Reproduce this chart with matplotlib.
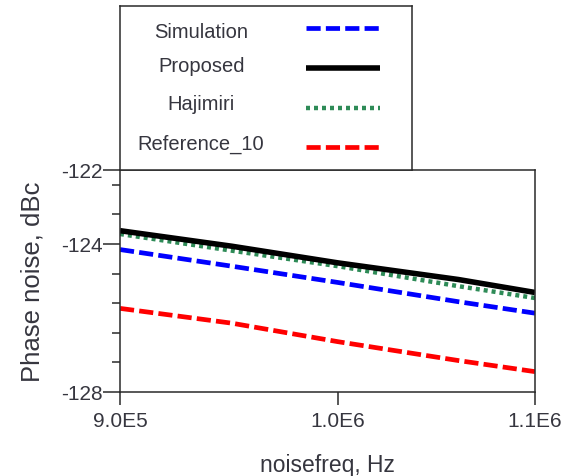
import matplotlib
matplotlib.use('Agg')
import matplotlib.pyplot as plt
from matplotlib.ticker import FixedLocator, NullLocator

plt.rcParams['font.family'] = ['Liberation Sans', 'DejaVu Sans']

# 값은 그림에서 읽은 추정치
freq = [9.0e5, 9.5e5, 1.0e6, 1.06e6, 1.1e6]
simulation = [-124.15, -124.60, -125.04, -125.56, -125.87]
proposed = [-123.64, -124.06, -124.51, -124.96, -125.31]
hajimiri = [-123.73, -124.18, -124.60, -125.14, -125.46]
reference_10 = [-125.74, -126.14, -126.64, -127.15, -127.45]

xtick_vals = [9.0e5, 1.0e6, 1.1e6]
xtick_labels = ['9.0E5', '1.0E6', '1.1E6']
ytick_vals = [-128, -124, -122]
ytick_labels = ['-128', '-124', '-122']

txt_color = '#36363f'
frame_color = '#2a2a2a'

styles = {
    'Simulation': dict(color='#0000ff', lw=3.4, dashes=(3.0, 1.1), dash_capstyle='butt'),
    'Proposed': dict(color='black', lw=4.0, solid_capstyle='butt'),
    'Hajimiri': dict(color='#2e8b57', lw=3.2, dashes=(0.9, 0.9), dash_capstyle='butt'),
    'Reference_10': dict(color='#ff0000', lw=3.4, dashes=(3.0, 1.1), dash_capstyle='butt'),
}
series = {
    'Simulation': simulation,
    'Proposed': proposed,
    'Hajimiri': hajimiri,
    'Reference_10': reference_10,
}

fig = plt.figure(figsize=(5.73, 4.77), dpi=100)
ax = fig.add_axes([120 / 573, 1 - 393 / 477, 415 / 573, 222 / 477])

# 그리기 순서: 검정 실선이 맨 위
for name in ['Reference_10', 'Simulation', 'Hajimiri', 'Proposed']:
    ax.plot(freq, series[name], **styles[name])

ax.set_xscale('log')
ax.set_xlim(9.0e5, 1.1e6)
ax.set_ylim(-128, -122)
ax.xaxis.set_major_locator(FixedLocator(xtick_vals))
ax.xaxis.set_minor_locator(NullLocator())
ax.set_xticklabels(xtick_labels)
ax.yaxis.set_major_locator(FixedLocator(ytick_vals))
ax.set_yticklabels(ytick_labels)
ax.yaxis.set_minor_locator(FixedLocator([-127.2, -126.4, -125.6, -124.8, -123.2, -122.4]))

ax.tick_params(axis='x', which='major', direction='out', length=9.5, width=1.1,
               pad=4.5, labelsize=15, colors=frame_color, labelcolor=txt_color)
ax.tick_params(axis='y', which='major', direction='out', length=12, width=1.1,
               pad=0.5, labelsize=15, colors=frame_color, labelcolor=txt_color)
ax.tick_params(axis='y', which='minor', direction='out', length=6, width=1.1,
               colors=frame_color)
for sp in ax.spines.values():
    sp.set_linewidth(1.1)
    sp.set_color(frame_color)

ax.set_xlabel('noisefreq, Hz', fontsize=16.5, color=txt_color, labelpad=16)
ax.set_ylabel('Phase noise, dBc', fontsize=18.5, color=txt_color, labelpad=12)

# 범례 (위쪽 박스)
lax = fig.add_axes([120 / 573, 1 - 171 / 477, 292 / 573, 164.5 / 477])
lax.set_xlim(0, 1)
lax.set_ylim(0, 1)
lax.set_xticks([])
lax.set_yticks([])
for sp in lax.spines.values():
    sp.set_linewidth(1.1)
    sp.set_color(frame_color)

legend_names = ['Simulation', 'Proposed', 'Hajimiri', 'Reference_10']
text_base = [0.809, 0.604, 0.371, 0.128]
line_y = [0.864, 0.621, 0.378, 0.141]
for name, ty, ly in zip(legend_names, text_base, line_y):
    lax.text(0.278, ty, name, ha='center', va='baseline', fontsize=14.5, color=txt_color)
    lax.plot([0.638, 0.891], [ly, ly], **styles[name])

fig.savefig('out.png', dpi=100)
